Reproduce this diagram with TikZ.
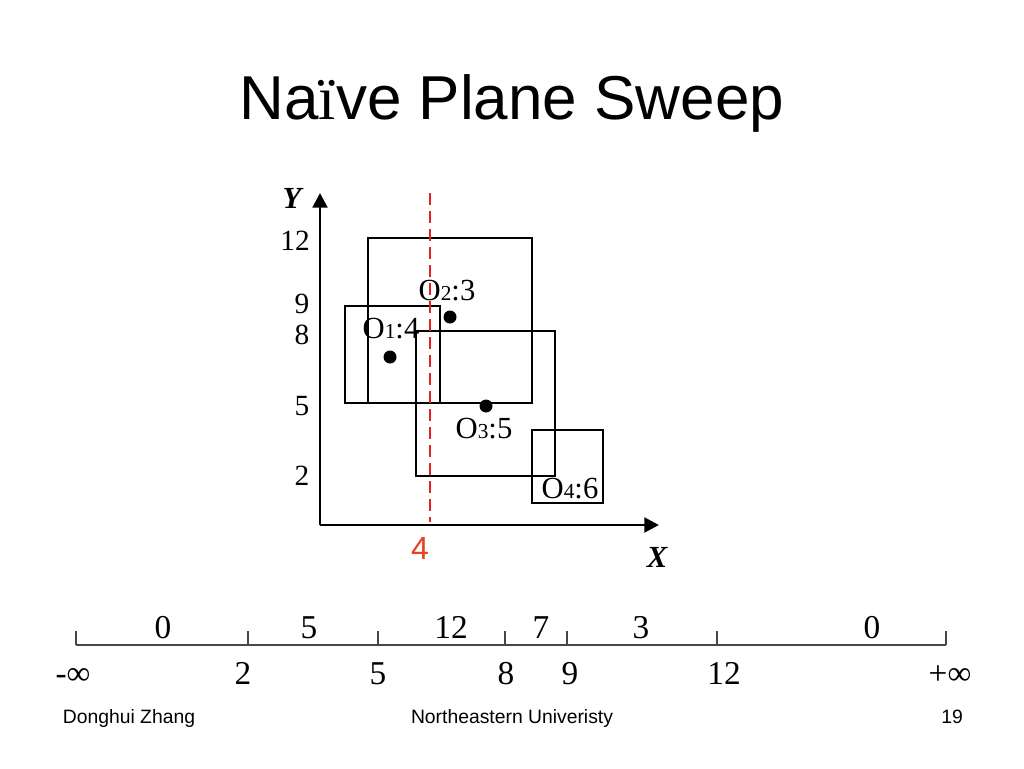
\documentclass[tikz,border=0pt]{standalone}
\usepackage{fontspec}
\setmainfont{Liberation Serif}
\newfontfamily\arial{Liberation Sans}
\usetikzlibrary{arrows.meta}
\definecolor{sweepred}{RGB}{228,32,32}
\definecolor{labred}{RGB}{232,64,32}
\definecolor{linegray}{RGB}{70,70,70}
\newcommand\olab[2]{O{\fontsize{16}{20}\selectfont #1}:#2}
\begin{document}
\begin{tikzpicture}[x=0.75pt,y=-0.75pt,
  num/.style={inner sep=0pt, anchor=base, font=\fontsize{25}{30}\selectfont},
  axnum/.style={inner sep=0pt, anchor=base, font=\fontsize{22}{26}\selectfont},
  olabel/.style={inner sep=0pt, anchor=base, font=\fontsize{23}{28}\selectfont},
  axlab/.style={inner sep=0pt, anchor=base, font=\fontsize{23}{28}\selectfont\bfseries\itshape},
  box/.style={draw, line width=1.5pt},
  dotmark/.style={circle, fill=black, inner sep=0pt, minimum size=9.75pt},
  axis/.style={line width=2.2pt, -{Triangle[length=11pt,width=11pt]}},
  sweep/.style={draw=sweepred, line width=2.2pt, dash pattern=on 9pt off 4.5pt},
  tick/.style={draw=linegray, line width=0.8pt},
  foot/.style={inner sep=0pt, anchor=base, font=\arial\fontsize{14.5}{17}\selectfont}]
\useasboundingbox (0,0) rectangle (1024,768);

% title
\node[inner sep=0pt, anchor=base, font=\arial\fontsize{46.5}{56}\selectfont] (title) at (512,119) {Na{\rmfamily ï}ve Plane Sweep};

% axes
\coordinate (origin) at (320,525);
\coordinate (ytip) at (320,193);
\coordinate (xtip) at (659,525);
\draw[axis] (origin) -- (ytip);
\draw[axis] (origin) -- (xtip);
\node[axlab] (ylab) at (292,208) {Y};
\node[axlab] (xlab) at (657,567) {X};

% y labels
\node[axnum] (y12) at (295,250) {12};
\node[axnum] (y9) at (302,313) {9};
\node[axnum] (y8) at (302,344) {8};
\node[axnum] (y5) at (302,415) {5};
\node[axnum] (y2) at (302,485) {2};

% rectangles
\draw[box] (368,238) rectangle (532,403);
\draw[box] (345,306) rectangle (440,403);
\draw[box] (416,331) rectangle (555,476);
\draw[box] (532,430) rectangle (603,503);

% dots
\node[dotmark] (d1) at (390,357) {};
\node[dotmark] (d2) at (450,317) {};
\node[dotmark] (d3) at (486,406) {};

% labels
\node[olabel] (o2) at (447,300) {\olab{2}{3}};
\node[olabel] (o1) at (391,338) {\olab{1}{4}};
\node[olabel] (o3) at (484,438) {\olab{3}{5}};
\node[olabel] (o4) at (570,498) {\olab{4}{6}};

% sweep line
\coordinate (stop) at (430,193);
\coordinate (sbot) at (430,522);
\draw[sweep] (stop) -- (sbot);
\node[inner sep=0pt, anchor=base, text=labred, font=\arial\fontsize{24}{28}\selectfont] (four) at (420,559) {4};

% bottom number line
\coordinate (lstart) at (76,645);
\coordinate (lend) at (946,645);
\draw[tick] (lstart) -- (lend);
\foreach \x in {76,248,378,505,567,717,946} {
  \draw[tick] (\x,631) -- (\x,645);
}
\node[num] (c1) at (163,638) {0};
\node[num] (c2) at (309,638) {5};
\node[num] (c3) at (451,638) {12};
\node[num] (c4) at (541,638) {7};
\node[num] (c5) at (641,638) {3};
\node[num] (c6) at (872,638) {0};

\node[num] (b1) at (73,684) {-∞};
\node[num] (b2) at (243,684) {2};
\node[num] (b3) at (378,684) {5};
\node[num] (b4) at (506,684) {8};
\node[num] (b5) at (570,684) {9};
\node[num] (b6) at (724,684) {12};
\node[num] (b7) at (950,684) {+∞};

% footer
\node[foot] (f1) at (129,723) {Donghui Zhang};
\node[foot] (f2) at (512,723) {Northeastern Univeristy};
\node[foot] (f3) at (952,723) {19};
\end{tikzpicture}
\end{document}
